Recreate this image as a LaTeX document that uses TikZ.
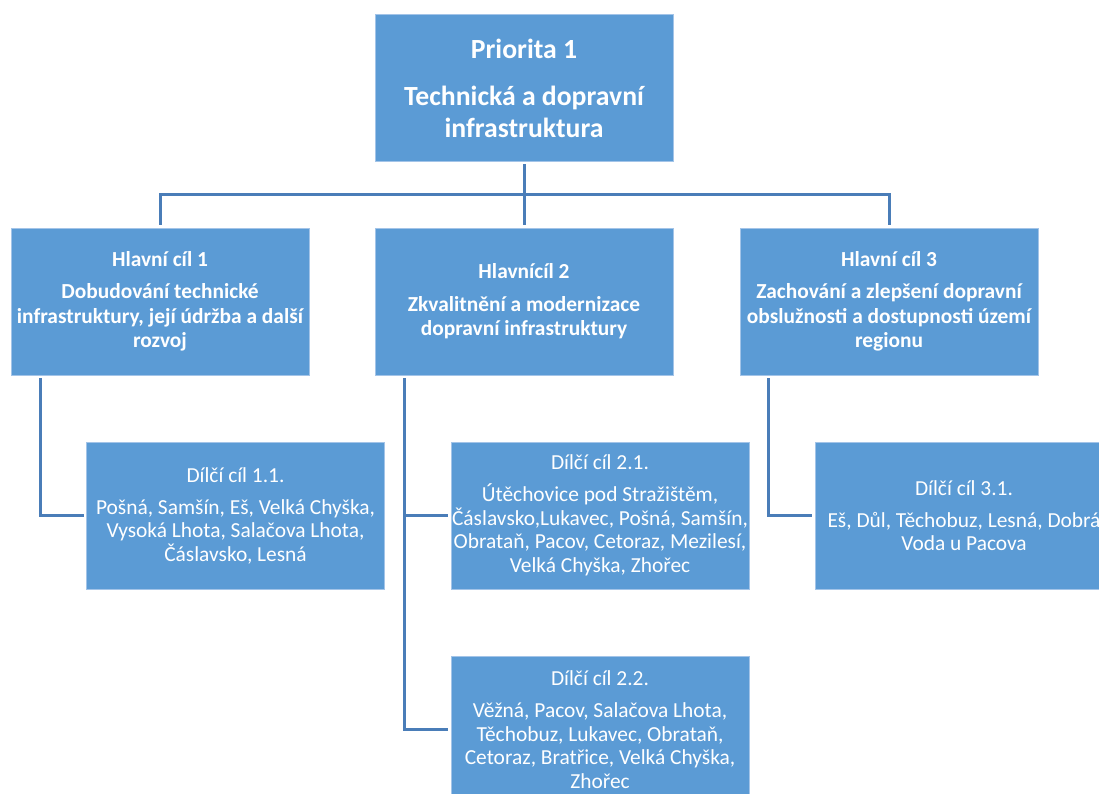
\documentclass[tikz,border=0pt]{standalone}
\usepackage{fontspec}
\setmainfont{Carlito}
\definecolor{boxfill}{HTML}{5B9BD5}
\definecolor{boxedge}{HTML}{A3C4E8}
\definecolor{linec}{HTML}{4A7DB8}
\begin{document}
\begin{tikzpicture}[x=1pt,y=-1pt,
  box/.style={draw=boxedge, line width=0.8pt, fill=boxfill, text=white, align=center,
    minimum width=298pt, minimum height=147pt, inner sep=0pt, outer sep=0pt},
  topbox/.style={box, font=\fontsize{27.7}{32}\selectfont\bfseries},
  mainbox/.style={box, font=\fontsize{21.4}{24.5}\selectfont\bfseries},
  subbox/.style={box, font=\fontsize{21.4}{23.5}\selectfont},
  conn/.style={draw=linec, line width=3pt, shorten <=3pt, shorten >=3pt}]
\useasboundingbox (0,0) rectangle (1099,794);
\clip (0,0) rectangle (1099,794);

\node[topbox] (top) at (524,88) {Priorita 1\\[15pt]Technická a dopravní\\infrastruktura};

\node[mainbox] (hc1) at (160,301.5) {Hlavní cíl 1\\[8pt]Dobudování technické\\infrastruktury, její údržba a další\\rozvoj};
\node[mainbox] (hc2) at (524,301.5) {Hlavnícíl 2\\[8pt]Zkvalitnění a modernizace\\dopravní infrastruktury};
\node[mainbox] (hc3) at (889,301.5) {Hlavní cíl 3\\[8pt]Zachování a zlepšení dopravní\\obslužnosti a dostupnosti území\\regionu};

\node[subbox] (d11) at (235.5,515.5) {Dílčí cíl 1.1.\\[8.5pt]Pošná, Samšín, Eš, Velká Chyška,\\Vysoká Lhota, Salačova Lhota,\\Čáslavsko, Lesná};
\node[subbox] (d21) at (600,515.5) {Dílčí cíl 2.1.\\[8.5pt]Útěchovice pod Stražištěm,\\Čáslavsko,Lukavec, Pošná, Samšín,\\Obrataň, Pacov, Cetoraz, Mezilesí,\\Velká Chyška, Zhořec};
\node[subbox] (d22) at (600,729.5) {Dílčí cíl 2.2.\\[8.5pt]Věžná, Pacov, Salačova Lhota,\\Těchobuz, Lukavec, Obrataň,\\Cetoraz, Bratřice, Velká Chyška,\\Zhořec};
\node[subbox] (d31) at (964,515.5) {Dílčí cíl 3.1.\\[8.5pt]Eš, Důl, Těchobuz, Lesná, Dobrá\\Voda u Pacova};

\coordinate (bus) at (524,195);
\draw[conn] (top.south) -- (hc2.north);
\draw[conn] (hc1.north) -- (hc1.north |- bus) -- (hc3.north |- bus) -- (hc3.north);

\draw[conn] ([xshift=29pt]hc1.south west) |- (d11.west);
\draw[conn] ([xshift=29pt]hc2.south west) |- (d22.west);
\draw[conn, shorten <=0pt] ([xshift=29pt]hc2.south west |- d21.west) -- (d21.west);
\draw[conn] ([xshift=28pt]hc3.south west) |- (d31.west);
\end{tikzpicture}
\end{document}
